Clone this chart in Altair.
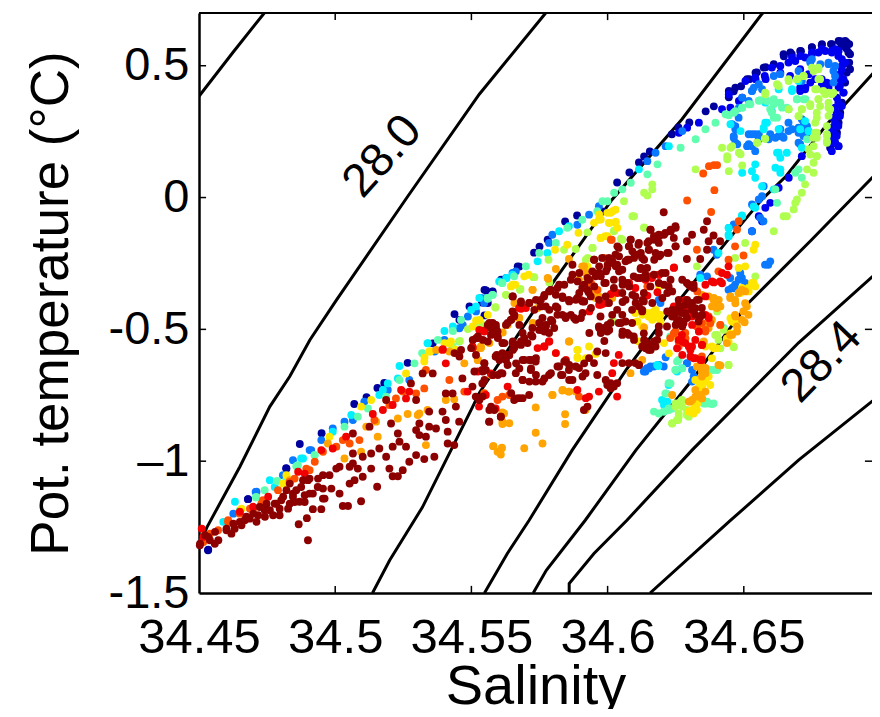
import altair as alt
import pandas as pd

x_ticks = [34.45, 34.5, 34.55, 34.6, 34.65]
y_ticks = [0.5, 0, -0.5, -1, -1.5]

line_a = [(34.45,0.384),(34.4625,0.551),(34.4742,0.703)]
line_b = [(34.45,-1.319),(34.4529,-1.251),(34.465,-1.021),(34.476,-0.793),(34.4833,-0.679),(34.4907,-0.54),(34.5005,-0.388),(34.5266,0.004),(34.5529,0.392),(34.5775,0.703)]
line_c = [(34.5137,-1.5),(34.52,-1.376),(34.532,-1.175),(34.5504,-0.795),(34.5529,-0.741),(34.5786,-0.342),(34.6016,-0.008),(34.6273,0.297),(34.6566,0.696),(34.6573,0.703)]
line_d = [(34.5548,-1.5),(34.5632,-1.35),(34.5712,-1.224),(34.587,-0.958),(34.6068,-0.654),(34.6214,-0.452),(34.6434,-0.171),(34.6566,-0.008),(34.6654,0.08),(34.6811,0.285),(34.7,0.5)]
line_e = [(34.5727,-1.5),(34.5775,-1.414),(34.5918,-1.224),(34.6104,-0.958),(34.631,-0.692),(34.6518,-0.399),(34.6749,-0.16),(34.7,0.106)]
line_f = [(34.5859,-1.5),(34.5859,-1.464),(34.595,-1.35),(34.6071,-1.224),(34.631,-0.958),(34.6701,-0.551),(34.7,-0.274)]
line_g = [(34.6156,-1.5),(34.6452,-1.224),(34.6701,-0.996),(34.7,-0.749)]

dark_blue = [(34.4533,-1.338),(34.468,-1.144),(34.482,-1.027),(34.487,-0.935),(34.495,-0.894),(34.507,-0.783),(34.5115,-0.757),(34.5155,-0.722),(34.518,-0.703),(34.5266,-0.627),(34.5358,-0.553),
(34.5548,-0.35),(34.5577,-0.357),(34.5658,-0.285),(34.5676,-0.262),(34.573,-0.209),(34.575,-0.186),(34.578,-0.16),(34.5844,-0.091),(34.5888,-0.068),(34.598,-0.053),
(34.6035,0.057),(34.608,0.095),(34.6115,0.133),(34.6134,0.156),(34.6155,0.175),(34.6236,0.24),(34.626,0.266),(34.63,0.285),(34.636,0.327),(34.639,0.346),(34.6445,0.38),(34.6463,0.403),(34.649,0.422),(34.652,0.449),(34.6548,0.475),(34.658,0.494),(34.6647,0.536),(34.6676,0.544),(34.671,0.555),(34.675,0.57),(34.6786,0.578),(34.682,0.582),(34.6855,0.593),(34.6877,0.589),(34.689,0.544),(34.689,0.487),(34.6877,0.565),(34.6858,0.575),(34.6875,0.51),
(34.567,-0.261),(34.5609,-0.312),(34.5554,-0.352),(34.5578,-0.356),(34.5539,-0.398),(34.556,-0.4),(34.5493,-0.413),(34.5438,-0.442),(34.5548,-0.447),(34.5456,-0.464),
(34.6445,0.404),(34.6469,0.417),(34.6512,0.449),(34.6543,0.474),(34.6573,0.493),(34.661,0.506),(34.6646,0.544),(34.6671,0.55),(34.6707,0.556),(34.675,0.569),(34.6787,0.582),(34.6823,0.582),(34.6848,0.594),(34.6872,0.594),(34.6887,0.582),(34.6884,0.55),(34.6887,0.512),(34.6878,0.474),(34.6872,0.436),(34.6866,0.398),(34.686,0.36),(34.6854,0.322),(34.6848,0.284),(34.6842,0.246),(34.6835,0.208),(34.6848,0.195),(34.6817,0.189),
(34.468,-1.144),(34.4821,-1.028),(34.4534,-1.336)]
blue = [(34.6847,0.537),(34.686,0.499),(34.6866,0.449),(34.6866,0.398),(34.686,0.347),(34.6853,0.309),(34.6847,0.271),(34.6841,0.233),(34.6847,0.195),(34.6823,0.176),(34.6823,0.208),(34.6829,0.246),(34.6835,0.284),(34.6841,0.322),(34.6847,0.36),(34.6853,0.424),(34.6872,0.512),(34.6835,0.563),(34.6853,0.468),(34.6835,0.208),(34.6823,0.252),
(34.6634,0.499),(34.6689,0.518),(34.675,0.544),(34.6799,0.556),(34.6725,0.531),(34.6774,0.55),(34.6664,0.512),(34.6603,0.493),(34.6542,0.455),(34.6506,0.442),(34.6823,0.55),(34.6335,0.284),(34.6292,0.265),(34.6262,0.246),(34.642,0.335),(34.6805,0.436),(34.6811,0.417),(34.6786,0.449),(34.6725,0.411),(34.6707,0.404),(34.6713,0.157),(34.6665,0.075),(34.6597,-0.02),(34.6579,-0.039),(34.653,-0.128),(34.6555,-0.071),(34.6567,-0.09),(34.6628,0.037),
(34.6677,0.531),(34.6707,0.537),(34.675,0.55),(34.6787,0.563),(34.6823,0.556),(34.6848,0.556),(34.686,0.525),(34.686,0.487),(34.6854,0.449),(34.6848,0.417),(34.6842,0.379),(34.6835,0.341),(34.6829,0.303),(34.6823,0.265),(34.6823,0.227),(34.6835,0.271),(34.6445,0.392),(34.6543,0.449),(34.658,0.449),(34.6577,0.461),(34.6634,0.474),(34.667,0.461),(34.6738,0.468),(34.6744,0.436),(34.6762,0.449),(34.6805,0.417),(34.6787,0.43),(34.6726,0.417),(34.6707,0.417),(34.6707,0.487),(34.6494,0.379),(34.6482,0.366),(34.6451,0.341)]
azure = [(34.6555,0.43),(34.653,0.404),(34.6494,0.379),(34.6567,0.411),(34.661,0.461),(34.6634,0.468),(34.6701,0.48),(34.675,0.525),(34.6744,0.512),(34.6811,0.506),(34.6829,0.48),(34.6713,0.442),(34.6457,0.278),(34.6469,0.271),(34.6463,0.233),(34.6469,0.208),(34.6481,0.303),(34.6518,0.24),(34.6542,0.24),(34.6555,0.221),(34.6597,0.24),(34.6616,0.227),(34.664,0.233),(34.6664,0.252),(34.6664,0.284),(34.6634,0.259),(34.6701,0.208),(34.6725,0.271),(34.6713,0.297),(34.6732,0.246),(34.6701,0.265),(34.6719,0.233),(34.6512,0.195),(34.6542,0.176),(34.6573,0.043),(34.6567,0.005),(34.6555,-0.007),(34.653,-0.026),(34.6445,-0.115),(34.6463,-0.102),(34.6274,0.252),(34.6213,0.195),(34.6176,0.17),(34.6146,0.138),
(34.5663,-0.28),(34.5627,-0.305),(34.5553,-0.381),(34.5535,-0.381),(34.5547,-0.4),(34.5797,-0.141),(34.5785,-0.172),(34.5889,-0.103),(34.5932,-0.065),(34.5968,-0.033),
(34.6145,-0.647),(34.6139,-0.66),(34.6157,-0.641),(34.6188,-0.635),(34.6206,-0.641),(34.6291,-0.628),(34.631,-0.654),(34.6389,-0.198),(34.6401,-0.217),(34.653,-0.128),(34.6572,-0.09),(34.656,-0.077),(34.659,-0.255),(34.6578,-0.255),(34.6597,-0.242),(34.6456,-0.343),(34.6468,-0.331),(34.6493,-0.305),(34.6481,-0.312),(34.645,-0.305),(34.634,-0.293),(34.6365,-0.299),(34.6505,-0.324),(34.6194,-0.4),(34.6188,-0.388),(34.6487,-0.286),
(34.4626,-1.199),(34.4711,-1.116),(34.4845,-0.996),(34.4912,-0.958),(34.4949,-0.92),(34.4991,-0.876),(34.5034,-0.85),(34.5065,-0.844),(34.5107,-0.774),(34.5193,-0.73),(34.5272,-0.692),
(34.5651,-0.286),(34.5487,-0.451),(34.5517,-0.432),(34.5468,-0.483),(34.5456,-0.496),(34.5401,-0.54),(34.5365,-0.584),
(34.6835,0.499),(34.6835,0.461),(34.6829,0.436),(34.6811,0.512),(34.6781,0.506),(34.6744,0.518),(34.653,0.404),(34.6518,0.366),(34.6482,0.341),(34.6537,0.417),(34.6469,0.259),(34.6463,0.227),(34.6476,0.202),(34.653,0.24),(34.6555,0.24),(34.6591,0.221),(34.6628,0.233),(34.6646,0.227),(34.6677,0.259),(34.6701,0.246),(34.6707,0.202),(34.6726,0.233),(34.6732,0.271),(34.672,0.284),(34.6518,0.202),(34.653,0.195),
(34.6139,-0.654),(34.6133,-0.66),(34.6152,-0.648),(34.617,-0.641),(34.6213,-0.606),(34.6316,-0.679),(34.631,-0.698),(34.6463,-0.344),(34.6444,-0.35),(34.6292,-0.629),
(34.4708,-1.117),(34.4808,-1.053),(34.4906,-0.958)]
cyan = [(34.6628,0.17),(34.6658,0.17),(34.6634,0.107),(34.6616,0.113),(34.6634,0.094),(34.6579,0.284),(34.6573,0.265),(34.6542,0.126),(34.653,0.1),(34.6494,0.094),(34.6542,0.075),(34.6603,0.328),(34.6677,0.404),(34.6701,0.442),(34.6225,0.195),(34.6115,0.107),(34.6494,-0.071),(34.6445,-0.147),(34.6542,-0.039),(34.6567,0.043),(34.661,0.031),(34.6725,0.29),(34.6707,0.259),(34.6738,0.252),(34.6579,0.36),
(34.6493,-0.068),(34.6536,-0.035),(34.6444,-0.141),(34.6444,-0.115),(34.6182,-0.635),(34.6255,-0.66),(34.6273,-0.647),(34.6224,-0.711),(34.62,-0.768),(34.6407,-0.21),(34.634,-0.305),(34.5602,-0.318),(34.5651,-0.293),(34.5822,-0.128),(34.5858,-0.109),(34.5779,-0.21),(34.5743,-0.242),
(34.4632,-1.154),(34.4589,-1.23),(34.476,-1.072),(34.4882,-0.99),(34.4991,-0.888),(34.5059,-0.825),(34.5162,-0.749),(34.5236,-0.639),(34.5193,-0.705),(34.5175,-0.73),(34.5339,-0.553),(34.523,-0.686),
(34.5629,-0.305),(34.5529,-0.381),(34.5517,-0.413),(34.5499,-0.426),(34.5432,-0.489),(34.5401,-0.506),(34.534,-0.552),
(34.6451,0.278),(34.6488,0.252),(34.6585,0.284),(34.6573,0.259),(34.6628,0.259),(34.6622,0.17),(34.6634,0.151),(34.6713,0.189),(34.6738,0.252),(34.6677,0.411),(34.6628,0.411),(34.6219,-0.774),(34.6207,-0.787),(34.6186,-0.639),
(34.4875,-0.99),(34.4778,-1.098)]
aqua = [(34.6323,0.221),(34.6268,0.189),(34.6183,0.126),(34.6146,0.088),(34.6085,0.056),(34.6054,0.031),(34.6024,0.018),(34.5981,-0.014),(34.6359,0.259),(34.6396,0.284),(34.6433,0.316),(34.6469,0.328),(34.6494,0.341),(34.6524,0.354),(34.6555,0.367),(34.6579,0.373),(34.661,0.354),(34.664,0.341),(34.6664,0.335),(34.6603,0.322),(34.6622,0.303),(34.6695,0.373),(34.6719,0.373),(34.6616,0.031),(34.6622,-0.02),(34.6701,0.107),(34.6713,0.075),(34.6689,0.094),(34.6732,0.221),
(34.5559,-0.381),(34.5578,-0.369),(34.5614,-0.324),(34.5657,-0.299),(34.57,-0.261),(34.5749,-0.21),(34.581,-0.172),(34.5852,-0.115),(34.5907,-0.084),(34.5962,-0.052),(34.5999,-0.014),
(34.617,-0.812),(34.6188,-0.819),(34.6206,-0.812),(34.6224,-0.8),(34.6212,-0.743),(34.6224,-0.704),(34.6249,-0.654),(34.6255,-0.622),(34.623,-0.527),(34.6389,-0.654),(34.6377,-0.654),(34.6371,-0.781),(34.6383,-0.783),(34.6359,-0.781),(34.6346,-0.768),(34.6426,-0.495),
(34.465,-1.186),(34.4709,-1.138),(34.4787,-1.075),(34.4857,-1.019),(34.4925,-0.977),(34.5034,-0.869),(34.5083,-0.831),(34.512,-0.8),(34.5187,-0.755),(34.5236,-0.692),(34.5291,-0.629),(34.5321,-0.591),(34.5455,-0.546),(34.543,-0.565),
(34.5612,-0.324),(34.556,-0.384),(34.5578,-0.369),(34.5462,-0.464),(34.5432,-0.506),(34.5377,-0.54),(34.5319,-0.59),
(34.6561,0.369),(34.6585,0.366),(34.661,0.373),(34.6634,0.36),(34.6658,0.341),(34.6597,0.335),(34.661,0.303),(34.6695,0.373),(34.6726,0.373),(34.6518,0.354),(34.6494,0.341),(34.6463,0.322),(34.6445,0.312),
(34.6207,-0.812),(34.6225,-0.806),(34.6237,-0.8),(34.6216,-0.743),(34.6231,-0.705),(34.6261,-0.616),(34.6249,-0.654),(34.6274,-0.648),(34.6402,-0.654),(34.6389,-0.781),(34.6365,-0.774),(34.6353,-0.781),
(34.4741,-1.11),(34.471,-1.136),(34.482,-1.072),(34.4863,-1.015),(34.4924,-0.977)]
lime = [(34.6774,0.493),(34.6756,0.48),(34.678,0.449),(34.6768,0.411),(34.6792,0.404),(34.6823,0.392),(34.6811,0.398),(34.6774,0.373),(34.6811,0.36),(34.6817,0.335),(34.6811,0.31),(34.678,0.347),(34.6768,0.322),(34.6762,0.284),(34.6768,0.246),(34.6756,0.227),(34.6805,0.24),(34.6805,0.214),(34.6701,0.309),(34.6713,0.335),(34.6744,0.347),(34.6738,0.183),(34.6768,0.157),(34.6756,0.132),(34.6732,0.107),(34.6756,0.094),(34.6725,0.05),(34.6713,0.018),(34.6695,-0.007),(34.6689,-0.02),(34.6683,-0.045),(34.6646,-0.071),(34.6658,-0.071),(34.6323,0.107),(34.6445,0.1),(34.6494,0.122),(34.6488,0.164),(34.6457,0.195),(34.642,0.189),(34.6439,0.157),(34.6439,0.145),(34.6549,0.208),(34.6579,0.223),(34.6628,0.423),(34.6664,0.449),(34.6695,0.449),(34.6719,0.461),(34.6579,0.392),(34.6164,0.05),(34.6134,0.018),(34.6146,0.008),(34.6164,0.031),(34.606,-0.014),(34.6091,-0.071),(34.6134,-0.115),(34.661,-0.128),
(34.6054,-0.16),(34.6023,-0.128),(34.5944,-0.191),(34.592,-0.236),(34.5889,-0.578),(34.584,-0.198),(34.5883,-0.195),(34.5926,-0.132),(34.5678,-0.35),(34.5627,-0.369),(34.5588,-0.416),(34.5727,-0.302),(34.5783,-0.236),(34.6505,-0.172),(34.6468,-0.229),(34.6328,-0.261),(34.6462,-0.565),(34.6444,-0.635),(34.6426,-0.502),(34.6395,-0.521),(34.6407,-0.54),(34.6017,-0.47),(34.6261,-0.781),(34.6273,-0.768),(34.6291,-0.806),(34.6261,-0.819),(34.6237,-0.856),(34.6259,-0.844),(34.6291,-0.825),(34.6249,-0.793),
(34.5541,-0.483),(34.5523,-0.489),(34.5487,-0.499),(34.5458,-0.544),(34.5434,-0.571),
(34.6579,0.398),(34.6622,0.43),(34.6665,0.442),(34.6695,0.449),(34.672,0.461),(34.675,0.493),(34.6774,0.487),(34.6774,0.449),(34.6762,0.411),(34.6799,0.392),(34.6829,0.398),(34.6774,0.373),(34.6811,0.341),(34.6744,0.354),(34.6713,0.335),(34.6701,0.309),(34.6768,0.303),(34.6805,0.271),(34.6762,0.246),(34.6768,0.227),(34.6805,0.233),(34.6805,0.208),(34.6756,0.195),(34.6665,0.335),(34.6549,0.208),(34.6577,0.223),(34.6451,0.189),(34.6482,0.17),(34.6768,0.157),(34.6744,0.163),
(34.6402,-0.521),(34.6414,-0.572),(34.6463,-0.568),(34.6444,-0.635),(34.6402,-0.432),(34.6249,-0.781),(34.6268,-0.774),(34.6274,-0.793),(34.6261,-0.831),(34.6237,-0.857),(34.6255,-0.844),(34.6298,-0.831),(34.6542,-0.299),
(34.5588,-0.417),(34.5627,-0.369),(34.568,-0.347),(34.5731,-0.302),(34.5786,-0.322),(34.6134,-0.113),(34.6024,-0.125),(34.6049,-0.156),(34.5945,-0.191),(34.5927,-0.229),(34.6097,-0.071),(34.6018,-0.464)]
yellow = [(34.6011,-0.058),(34.6029,-0.046),(34.5968,-0.084),(34.595,-0.096),(34.5893,-0.134),(34.5852,-0.179),(34.5807,-0.198),(34.571,-0.293),(34.5694,-0.299),(34.5661,-0.331),(34.5645,-0.337),(34.6005,-0.096),(34.6029,-0.096),(34.5974,-0.153),(34.5999,-0.147),(34.5926,-0.261),(34.5932,-0.312),(34.6151,-0.451),(34.617,-0.457),(34.6127,-0.489),(34.6102,-0.438),(34.6139,-0.438),(34.6194,-0.445),(34.6176,-0.426),(34.5932,-0.565),(34.5889,-0.606),(34.5956,-0.593),(34.6115,-0.546),(34.6542,-0.179),(34.6536,-0.198),(34.6481,-0.267),(34.6505,-0.261),(34.6536,-0.324),(34.6542,-0.337),(34.6517,-0.343),(34.6493,-0.343),(34.6487,-0.362),(34.6383,-0.565),(34.6401,-0.571),(34.6468,-0.476),(34.6456,-0.47),(34.6438,-0.54),(34.6359,-0.692),(34.6346,-0.704),(34.6322,-0.692),(34.6334,-0.717),(34.6322,-0.793),(34.631,-0.806),(34.6328,-0.806),(34.6322,-0.768),
(34.5969,-0.064),(34.6018,-0.052),(34.5999,-0.058),(34.6006,-0.096),(34.603,-0.092),(34.5975,-0.083),
(34.4821,-1.053),(34.4979,-0.907),(34.5095,-0.793),(34.5132,-0.768),(34.526,-0.667),(34.5327,-0.622),(34.5345,-0.584),(34.5419,-0.553),(34.5443,-0.578),
(34.5651,-0.331),(34.556,-0.445),(34.5517,-0.466),(34.5425,-0.546),(34.5401,-0.552),(34.5349,-0.584),(34.5328,-0.607),
(34.6152,-0.439),(34.617,-0.432),(34.6164,-0.464),(34.6194,-0.47),(34.6207,-0.552),(34.6225,-0.591),(34.6359,-0.565),(34.639,-0.572),(34.6383,-0.61),(34.6371,-0.679),(34.6359,-0.698),(34.6347,-0.717),(34.6377,-0.711),(34.6335,-0.73),(34.6329,-0.781),(34.6298,-0.812),(34.6316,-0.819),(34.653,-0.324),(34.6505,-0.35),(34.6481,-0.363),(34.6518,-0.356),(34.6451,-0.458),(34.6438,-0.534),(34.6451,-0.515),(34.6444,-0.546),
(34.589,-0.578),(34.589,-0.609),(34.592,-0.609),(34.553,-0.464),(34.5505,-0.489),(34.5975,-0.153),(34.5991,-0.147),(34.6152,-0.451),(34.6128,-0.445),(34.6109,-0.47),(34.6177,-0.432),(34.6006,-0.096),(34.6036,-0.115),(34.6189,-0.337),(34.4808,-1.085),(34.4656,-1.18)]
orange = [(34.5858,-0.233),(34.5907,-0.261),(34.581,-0.271),(34.5782,-0.308),(34.5724,-0.35),(34.5675,-0.457),(34.5627,-0.483),(34.5858,-0.546),(34.5834,-0.732),(34.5856,-0.736),(34.5797,-0.749),(34.5736,-0.796),(34.5844,-0.822),(34.5844,-0.859),(34.5736,-0.892),(34.5761,-0.933),(34.5581,-0.943),(34.5612,-0.949),(34.5694,-0.951),(34.5639,-0.856),(34.5614,-0.859),(34.5614,-0.815),(34.5919,-0.806),(34.6389,-0.388),(34.6371,-0.375),(34.6346,-0.369),(34.6401,-0.419),(34.6383,-0.413),(34.6413,-0.483),(34.6383,-0.464),(34.6359,-0.483),(34.6346,-0.495),(34.6505,-0.356),(34.6493,-0.35),(34.6481,-0.362),(34.645,-0.381),(34.6468,-0.388),(34.6511,-0.413),(34.6499,-0.432),(34.6517,-0.445),(34.6468,-0.445),(34.6493,-0.464),(34.6475,-0.508),(34.645,-0.521),(34.6438,-0.552),(34.6407,-0.635),(34.6359,-0.647),(34.6346,-0.66),(34.6328,-0.641),(34.6359,-0.666),(34.6346,-0.679),(34.6322,-0.73),(34.631,-0.768),(34.6334,-0.755),(34.6359,-0.736),(34.6298,-0.774),(34.6084,-0.666),(34.6127,-0.616),(34.5956,-0.381),(34.5895,-0.312),(34.5919,-0.286),(34.595,-0.356),(34.5968,-0.375),(34.6017,-0.381),
(34.4833,-1.072),(34.4973,-0.933),(34.5034,-0.99),(34.5095,-0.964),(34.523,-0.838),(34.5266,-0.821),(34.5309,-0.819),(34.5339,-0.806),(34.5406,-0.768),(34.5437,-0.765),(34.5474,-0.629),(34.5523,-0.616),(34.5535,-0.565),(34.5614,-0.85),(34.562,-0.819),(34.515,-0.85),(34.5114,-0.869),(34.5333,-0.939),(34.5303,-0.825),(34.5156,-0.907),(34.558,-0.943),(34.5611,-0.952),(34.5608,-0.975),(34.5596,-0.964),
(34.5633,-0.483),(34.5649,-0.461),(34.5535,-0.571),(34.5419,-0.584),(34.5371,-0.578),
(34.6396,-0.401),(34.6408,-0.388),(34.639,-0.381),(34.6414,-0.413),(34.6451,-0.375),(34.6469,-0.401),(34.6505,-0.401),(34.6499,-0.432),(34.6469,-0.451),(34.6503,-0.473),(34.6475,-0.489),(34.6457,-0.521),(34.6353,-0.546),(34.6347,-0.641),(34.6359,-0.647),(34.6335,-0.641),(34.6414,-0.637),(34.6237,-0.749),(34.6341,-0.749),(34.6322,-0.755),(34.6304,-0.774),(34.6347,-0.762),(34.6371,-0.495),
(34.5725,-0.35),(34.578,-0.305),(34.5615,-0.512),(34.5859,-0.546),(34.581,-0.59),(34.5566,-0.552),(34.553,-0.571),(34.5524,-0.616),(34.5725,-0.476),(34.5676,-0.457),(34.5835,-0.73),(34.5859,-0.736),(34.5798,-0.749),(34.5883,-0.736),(34.5572,-0.673),(34.5658,-0.4),(34.5743,-0.419),(34.5914,-0.261),(34.6134,-0.493),(34.6256,-0.527)]
orange_red = [(34.6372,0.119),(34.639,0.123),(34.6402,0.123),(34.6351,0.091),(34.6392,0.028),(34.6292,-0.011),(34.638,-0.055),(34.6481,-0.09),(34.6475,-0.121),(34.6015,-0.16),(34.6468,-0.185),(34.6499,-0.22),(34.6328,-0.198),(34.6407,-0.28),(34.6444,-0.236),(34.6249,-0.508),(34.6273,-0.527),(34.623,-0.533),(34.6285,-0.514),(34.6328,-0.489),(34.6346,-0.476),(34.6371,-0.451),(34.6359,-0.502),(34.6261,-0.565),(34.6346,-0.603),(34.5895,-0.755),(34.5639,-0.749),(34.5596,-0.768),(34.5614,-0.755),(34.5547,-0.742),
(34.4516,-1.3),(34.457,-1.262),(34.4607,-1.224),(34.4687,-1.18),(34.4729,-1.161),(34.479,-1.11),(34.4894,-1.028),(34.4925,-1.002),(34.4955,-0.964),(34.5004,-0.945),(34.5028,-0.92),(34.5053,-0.933),(34.5089,-0.92),(34.5144,-0.844),(34.5199,-0.787),(34.5223,-0.762),(34.5248,-0.736),(34.5297,-0.743),(34.5327,-0.724),(34.5419,-0.692),(34.5474,-0.736),(34.5333,-0.654),
(34.6261,-0.546),(34.6286,-0.534),(34.6243,-0.515),(34.6377,-0.477),(34.6359,-0.508),(34.6329,-0.356),(34.6414,-0.483),
(34.4516,-1.307),(34.454,-1.275),(34.4607,-1.231),(34.465,-1.199),(34.4699,-1.18),(34.4735,-1.148),(34.4833,-1.079),(34.4851,-1.066),(34.4906,-1.034),
(34.5939,-0.324),(34.5988,-0.229),(34.6146,-0.337),(34.6012,-0.16),(34.5963,-0.35)]
red = [(34.6188,-0.293),(34.6163,-0.305),(34.6243,-0.267),(34.6139,-0.312),(34.6102,-0.343),(34.5974,-0.407),(34.5993,-0.4),(34.5785,-0.546),(34.5767,-0.565),(34.5743,-0.571),(34.581,-0.59),(34.5675,-0.419),(34.57,-0.419),(34.6041,-0.597),(34.6023,-0.628),(34.6017,-0.666),(34.6035,-0.755),(34.5968,-0.736),(34.5932,-0.755),(34.592,-0.761),(34.5889,-0.73),(34.6322,-0.54),(34.631,-0.565),(34.6304,-0.603),(34.6322,-0.609),(34.6346,-0.616),(34.6273,-0.521),(34.6285,-0.552),(34.6261,-0.54),(34.6346,-0.559),(34.6383,-0.318),(34.6413,-0.318),(34.642,-0.286),(34.6444,-0.261),(34.631,-0.483),(34.6285,-0.388),(34.6359,-0.445),(34.6371,-0.457),(34.6359,-0.375),(34.6243,-0.413),(34.5901,-0.388),(34.5529,-0.502),(34.5547,-0.508),
(34.451,-1.256),(34.4516,-1.287),(34.465,-1.192),(34.4699,-1.173),(34.4754,-1.135),(34.4864,-1.04),(34.4888,-1.047),(34.4949,-0.958),(34.4991,-0.952),(34.504,-0.907),(34.5138,-0.821),(34.5175,-0.806),(34.5211,-0.787),(34.526,-0.762),(34.5242,-0.73),(34.5272,-0.736),(34.5394,-0.578),(34.5406,-0.629),(34.5504,-0.565),(34.5528,-0.793),(34.5589,-0.8),(34.5571,-0.667),(34.5553,-0.749),(34.5486,-0.736),
(34.5517,-0.533),(34.5395,-0.575),(34.5505,-0.571),
(34.6316,-0.61),(34.6341,-0.616),(34.6347,-0.559),(34.6298,-0.565),(34.6255,-0.572),(34.6274,-0.597),(34.6274,-0.546),(34.631,-0.451),(34.6304,-0.578),(34.6292,-0.42),(34.6359,-0.331),(34.639,-0.322),(34.642,-0.325),(34.6438,-0.293),(34.6335,-0.508),
(34.5548,-0.504),(34.5682,-0.422),(34.5786,-0.546),(34.5768,-0.565),(34.5524,-0.66),(34.5578,-0.673),(34.5633,-0.717),(34.5847,-0.616),
(34.6244,-0.265),(34.6189,-0.293),(34.6158,-0.299),(34.6079,-0.324),(34.6036,-0.362),(34.6012,-0.366),(34.5981,-0.404),(34.5933,-0.432),(34.6183,-0.359),(34.6146,-0.372),(34.5969,-0.407)]
dark_red = [(34.6206,-0.056),(34.6157,-0.122),(34.6249,-0.109),(34.6231,-0.122),(34.6212,-0.134),(34.6188,-0.141),(34.617,-0.147),(34.6151,-0.166),(34.631,-0.141),(34.6353,-0.122),(34.6365,-0.09),(34.6389,-0.144),(34.6413,-0.166),(34.6371,-0.166),(34.6291,-0.166),(34.6243,-0.153),(34.6188,-0.172),(34.6115,-0.172),(34.6084,-0.16),(34.6078,-0.185),(34.6041,-0.191),(34.6029,-0.217),(34.6005,-0.229),(34.595,-0.236),(34.598,-0.229),(34.6017,-0.248),(34.5999,-0.267),(34.5968,-0.286),(34.5944,-0.28),(34.6078,-0.236),(34.6109,-0.217),(34.6127,-0.229),(34.6151,-0.198),(34.6176,-0.21),(34.6194,-0.217),(34.6224,-0.21),(34.6249,-0.185),(34.6291,-0.233),(34.634,-0.233),(34.6365,-0.198),(34.6145,-0.267),(34.6121,-0.271),(34.6054,-0.274),(34.6066,-0.242),(34.6035,-0.255),
(34.5871,-0.255),(34.5871,-0.293),(34.5822,-0.331),(34.5785,-0.356),(34.5767,-0.375),(34.581,-0.369),(34.5834,-0.375),(34.5858,-0.388),(34.5889,-0.381),(34.5913,-0.394),(34.5938,-0.375),(34.5907,-0.343),(34.5932,-0.312),(34.5956,-0.299),(34.5993,-0.324),(34.6023,-0.312),(34.6054,-0.312),(34.6096,-0.299),(34.6072,-0.324),(34.6121,-0.305),(34.6139,-0.293),(34.617,-0.293),(34.62,-0.286),(34.6231,-0.312),(34.6224,-0.337),(34.6237,-0.356),(34.6188,-0.324),(34.6157,-0.337),(34.6133,-0.362),(34.6102,-0.375),(34.6115,-0.413),(34.6127,-0.426),(34.609,-0.426),(34.6066,-0.388),(34.6054,-0.362),(34.6023,-0.343),(34.5993,-0.375),(34.5968,-0.388),(34.6005,-0.4),(34.6035,-0.426),(34.6054,-0.445),(34.6066,-0.47),(34.609,-0.476),(34.6072,-0.514),(34.6054,-0.521),(34.6096,-0.527),(34.6041,-0.476),(34.6011,-0.476),(34.5987,-0.495),(34.5968,-0.489),(34.5999,-0.508),(34.6017,-0.445),(34.5974,-0.451),
(34.5651,-0.375),(34.5682,-0.394),(34.5712,-0.4),(34.5755,-0.388),(34.5773,-0.413),(34.581,-0.413),(34.5834,-0.445),(34.5865,-0.445),(34.5883,-0.464),(34.5846,-0.457),(34.5797,-0.47),(34.5773,-0.489),(34.5755,-0.502),(34.5785,-0.514),(34.5749,-0.476),(34.5724,-0.495),(34.5688,-0.514),(34.5657,-0.451),(34.5645,-0.464),(34.5633,-0.476),(34.5761,-0.457),
(34.5566,-0.476),(34.559,-0.495),(34.5596,-0.527),(34.5614,-0.552),(34.5651,-0.552),(34.5657,-0.571),(34.5682,-0.546),(34.5706,-0.552),(34.5724,-0.527),(34.5639,-0.597),(34.559,-0.603),(34.5614,-0.59),(34.5627,-0.616),(34.5547,-0.628),(34.5553,-0.654),(34.5578,-0.673),(34.5608,-0.666),(34.5663,-0.666),(34.5688,-0.692),(34.5718,-0.654),(34.5736,-0.622),(34.5712,-0.616),(34.5688,-0.616),(34.5736,-0.698),(34.5761,-0.698),(34.5785,-0.673),
(34.5846,-0.622),(34.5822,-0.641),(34.5834,-0.673),(34.5871,-0.692),(34.5858,-0.654),(34.5895,-0.647),(34.5919,-0.666),(34.595,-0.628),(34.5962,-0.584),(34.5993,-0.59),(34.5932,-0.609),(34.5962,-0.673),(34.5993,-0.692),(34.6011,-0.704),(34.6035,-0.704),(34.6023,-0.717),(34.5999,-0.711),(34.6011,-0.723),(34.6054,-0.628),(34.6078,-0.628),(34.6102,-0.628),(34.6115,-0.635),(34.6127,-0.565),(34.6151,-0.559),(34.617,-0.546),(34.6188,-0.514),(34.6218,-0.489),(34.6151,-0.578),(34.6176,-0.565),(34.6139,-0.546),
(34.6261,-0.413),(34.6285,-0.407),(34.631,-0.4),(34.6328,-0.388),(34.6346,-0.419),(34.631,-0.426),(34.6273,-0.438),(34.6243,-0.445),(34.6255,-0.47),(34.6291,-0.457),(34.6322,-0.445),(34.634,-0.451),(34.6237,-0.426),(34.6304,-0.337),(34.6291,-0.324),(34.6316,-0.343),(34.6279,-0.476),(34.6334,-0.47),(34.6261,-0.388),
(34.5566,-0.806),(34.5572,-0.793),(34.5584,-0.806),(34.5608,-0.831),(34.5566,-0.85),(34.5675,-0.761),(34.5688,-0.761),(34.5712,-0.749),(34.5529,-0.768),(34.5541,-0.755),(34.5926,-0.793),(34.5913,-0.806),(34.5657,-0.768),
(34.4504,-1.313),(34.4534,-1.287),(34.4571,-1.3),(34.4559,-1.268),(34.4601,-1.256),(34.465,-1.23),(34.4711,-1.23),(34.4742,-1.211),(34.4772,-1.205),(34.4796,-1.18),(34.4833,-1.161),(34.4869,-1.154),(34.4888,-1.129),(34.4918,-1.123),(34.4821,-1.11),(34.4857,-1.11),(34.4809,-1.135),(34.4748,-1.161),(34.4918,-1.182),(34.4949,-1.182),(34.4866,-1.239),(34.4896,-1.216),(34.49,-1.3),(34.4961,-1.142),(34.5028,-1.17),(34.5047,-1.17),(34.5095,-1.152),(34.5154,-1.097),(34.5016,-1.123),(34.4986,-1.104),(34.4955,-1.104),(34.4937,-1.066),(34.4979,-1.053),(34.5016,-1.021),(34.5053,-1.021),(34.5065,-0.971),(34.5101,-0.983),(34.5132,-0.971),(34.5162,-0.952),(34.5211,-0.945),(34.5236,-0.926),(34.526,-0.945),(34.5205,-0.857),(34.5065,-0.895),(34.5126,-0.869),(34.5065,-1.009),(34.5083,-1.028),(34.5101,-1.059),(34.5132,-1.028),(34.5053,-1.085),(34.5071,-1.072),(34.5199,-1.028),(34.5211,-1.057),(34.523,-1.057),(34.5248,-1.034),(34.5272,-1.002),(34.5297,-0.977),(34.5327,-0.992),(34.5364,-0.983),(34.5187,-0.983),(34.523,-0.895),(34.5187,-0.768),(34.5297,-0.768),(34.5297,-0.882),(34.5309,-0.857),(34.5333,-0.907),(34.537,-0.876),(34.5406,-0.844),(34.5443,-0.793),(34.5455,-0.85),(34.5413,-0.888),(34.5437,-0.939),(34.5413,-0.933),(34.5565,-0.85),(34.5516,-0.755),(34.554,-0.705),(34.5467,-0.686),(34.554,-0.654),(34.5589,-0.603),(34.5614,-0.667),(34.5358,-0.667),(34.5321,-0.667),(34.5406,-0.743),(34.5431,-0.743),(34.5278,-0.705),(34.5608,-0.831),(34.5394,-0.812),(34.5345,-0.812),(34.5504,-0.717),(34.5309,-0.901),(34.5345,-0.869),
(34.4674,-1.211),(34.4699,-1.199),(34.476,-1.186),(34.4784,-1.161),(34.4626,-1.237),(34.454,-1.3),(34.4522,-1.281),(34.4845,-1.135),(34.4833,-1.085),(34.4882,-1.072),(34.4906,-1.066),(34.4955,-1.053),(34.5004,-1.028),
(34.559,-0.483),(34.5572,-0.496),(34.5596,-0.508),(34.556,-0.546),(34.5627,-0.483),(34.5615,-0.552),(34.5593,-0.597),(34.5651,-0.432),(34.5663,-0.559),(34.5462,-0.578),(34.5438,-0.59),(34.5517,-0.597),(34.5639,-0.597),(34.5456,-0.603),(34.5523,-0.533),
(34.6152,-0.559),(34.614,-0.572),(34.6158,-0.578),(34.6182,-0.54),(34.6249,-0.439),(34.6268,-0.413),(34.6286,-0.439),(34.6304,-0.407),(34.6322,-0.42),(34.6347,-0.445),(34.6261,-0.464),(34.6237,-0.451),(34.6274,-0.489),(34.6298,-0.331),(34.6316,-0.331),(34.6274,-0.312),(34.6292,-0.388),(34.6335,-0.388),(34.6133,-0.394),(34.6127,-0.432),(34.6219,-0.432),(34.6188,-0.489),(34.6133,-0.515),(34.6115,-0.635),
(34.4601,-1.262),(34.4631,-1.256),(34.4656,-1.243),(34.4686,-1.218),(34.4717,-1.205),(34.4741,-1.186),(34.4796,-1.205),(34.4827,-1.18),(34.4778,-1.161),(34.4802,-1.148),(34.4851,-1.155),(34.4888,-1.155),(34.4845,-1.123),(34.4875,-1.098),(34.4906,-1.123),(34.4936,-1.098),(34.4955,-1.142),(34.49,-1.072),(34.4723,-1.174),(34.4503,-1.319),(34.4558,-1.313),(34.4619,-1.275),(34.4668,-1.224),
(34.5652,-0.375),(34.5682,-0.4),(34.5713,-0.4),(34.5737,-0.388),(34.5768,-0.369),(34.5792,-0.35),(34.5816,-0.343),(34.5841,-0.331),(34.5865,-0.312),(34.589,-0.318),(34.5896,-0.286),(34.5926,-0.305),(34.5835,-0.381),(34.5859,-0.394),(34.5883,-0.388),(34.5914,-0.394),(34.5926,-0.35),(34.5896,-0.362),(34.5658,-0.445),(34.5646,-0.464),(34.5676,-0.483),(34.5694,-0.533),(34.5719,-0.521),(34.5749,-0.502),(34.5774,-0.483),(34.5792,-0.464),(34.5816,-0.445),(34.5847,-0.451),(34.5877,-0.457),(34.5908,-0.438),(34.5768,-0.508),(34.5804,-0.495),(34.5731,-0.426),(34.5755,-0.413),(34.5786,-0.426),(34.5816,-0.419),(34.5578,-0.476),(34.556,-0.483),(34.559,-0.502),(34.5572,-0.521),(34.5597,-0.533),(34.5524,-0.527),(34.5505,-0.54),(34.5542,-0.54),(34.5499,-0.571),(34.5652,-0.546),(34.5621,-0.552),(34.5682,-0.559),(34.5652,-0.578),(34.5627,-0.597),(34.5603,-0.616),(34.5633,-0.635),(34.5664,-0.629),(34.5694,-0.616),(34.5719,-0.616),(34.5737,-0.609),(34.5676,-0.648),(34.5719,-0.648),(34.5737,-0.673),(34.5768,-0.686),(34.5792,-0.666),(34.5816,-0.641),(34.5841,-0.622),(34.5859,-0.635),(34.5883,-0.641),(34.5914,-0.629),(34.5829,-0.673),(34.5859,-0.692),(34.5908,-0.679),(34.5548,-0.629),(34.5542,-0.66),(34.5511,-0.66),(34.5548,-0.692),(34.5597,-0.673),(34.5688,-0.692),(34.5713,-0.698),(34.5646,-0.742),(34.5664,-0.762),
(34.6158,-0.122),(34.625,-0.115),(34.6232,-0.128),(34.6207,-0.141),(34.6189,-0.147),(34.6171,-0.16),(34.6146,-0.172),(34.6085,-0.16),(34.6079,-0.185),(34.6113,-0.179),(34.6036,-0.185),(34.6091,-0.204),(34.6122,-0.21),(34.6152,-0.198),(34.6219,-0.21),(34.625,-0.185),(34.6189,-0.223),(34.6171,-0.236),(34.6134,-0.236),(34.6097,-0.229),(34.6073,-0.236),(34.6122,-0.267),(34.6042,-0.223),(34.6018,-0.242),(34.6,-0.255),(34.603,-0.261),(34.5994,-0.28),(34.5969,-0.261),(34.5951,-0.236),(34.5975,-0.299),(34.6042,-0.28),(34.5914,-0.331),(34.5951,-0.337),(34.593,-0.359),(34.5988,-0.324),(34.6055,-0.331),(34.6079,-0.337),(34.611,-0.305),(34.614,-0.305),(34.6213,-0.286),(34.6207,-0.331),(34.6219,-0.362),(34.6201,-0.381),(34.6091,-0.369),(34.6128,-0.388),(34.6103,-0.4),(34.6055,-0.396),(34.6164,-0.4),(34.5939,-0.419),(34.5908,-0.394),(34.5902,-0.457),(34.5933,-0.514),(34.5969,-0.495),(34.6,-0.483),(34.6049,-0.476),(34.6006,-0.502),(34.5975,-0.514),(34.6055,-0.508),(34.6079,-0.521),(34.6097,-0.54),(34.6134,-0.54),(34.5988,-0.544),(34.6238,-0.445),(34.6262,-0.426),(34.625,-0.483),(34.6274,-0.47)]

groups = [("dark_blue", dark_blue, "#00009c"), ("blue", blue, "#0000f0"), ("azure", azure, "#0a78ff"),
          ("cyan", cyan, "#00f0ff"), ("aqua", aqua, "#60ffb0"), ("lime", lime, "#b0ff50"),
          ("yellow", yellow, "#ffe600"), ("orange", orange, "#ffa400"), ("orange_red", orange_red, "#ff5000"),
          ("red", red, "#f00000"), ("dark_red", dark_red, "#8c0000")]
lines = {"a": line_a, "b": line_b, "c": line_c, "d": line_d, "e": line_e, "f": line_f, "g": line_g}

pts = pd.DataFrame([{"s": s, "t": t, "g": g, "k": i} for i, (g, vals, _) in enumerate(groups) for s, t in vals])
ln = pd.DataFrame([{"s": s, "t": t, "n": n, "i": i} for n, vals in lines.items() for i, (s, t) in enumerate(vals)])

FONT = "Liberation Sans"
S_MAX = 34.69706
xs = alt.Scale(domain=[34.45, S_MAX], nice=False, zero=False)
ys = alt.Scale(domain=[-1.5, 0.7], nice=False, zero=False)
y_expr = "datum.value==-0.5?'-0.5':datum.value==-1.5?'-1.5':datum.value==-1?'–1':datum.value==0?'0':'0.5'"
x_axis = alt.Axis(values=x_ticks, format=".2~f", title="Salinity", titleFont=FONT, titleFontSize=56, titleFontWeight="normal",
                  labelFont=FONT, labelFontSize=49, labelColor="black", titleColor="black", tickSize=0, grid=False,
                  domainColor="black", domainWidth=2.5, labelPadding=20, titlePadding=-3, labelFlush=False, labelOverlap=False)
y_axis = alt.Axis(values=y_ticks, labelExpr=y_expr, title="Pot. temperature (°C)", titleFont=FONT, titleFontSize=53, titleFontWeight="normal",
                  labelFont=FONT, labelFontSize=47, labelColor="black", titleColor="black", tickSize=0, grid=False,
                  domainColor="black", domainWidth=2.5, labelPadding=10, titlePadding=30, labelFlush=False, labelOverlap=False)

iso = alt.Chart(ln).mark_line(color="black", strokeWidth=3, clip=True).encode(
    x=alt.X("s:Q", scale=xs, axis=x_axis), y=alt.Y("t:Q", scale=ys, axis=y_axis), detail="n:N", order="i:Q")
dots = alt.Chart(pts).mark_circle(size=62, opacity=1).encode(
    x=alt.X("s:Q", scale=xs), y=alt.Y("t:Q", scale=ys),
    color=alt.Color("g:N", scale=alt.Scale(domain=[g[0] for g in groups], range=[g[2] for g in groups]), legend=None),
    order="k:Q")

top = alt.Chart(pd.DataFrame({"a": [34.45], "b": [S_MAX], "t": [0.7]})).mark_rule(color="black", strokeWidth=2).encode(
    x=alt.X("a:Q", scale=xs), x2="b:Q", y=alt.Y("t:Q", scale=ys))
tick_rows = []
for v in x_ticks[1:]:
    tick_rows += [(v, v, -1.5, -1.473), (v, v, 0.7, 0.673)]
for v in y_ticks[:-1]:
    tick_rows += [(34.45, 34.4526, v, v), (S_MAX - 0.0026, S_MAX, v, v)]
ticks = pd.DataFrame(tick_rows, columns=["x1", "x2", "y1", "y2"])
tick_marks = alt.Chart(ticks).mark_rule(color="black", strokeWidth=1.5).encode(
    x=alt.X("x1:Q", scale=xs), x2="x2:Q", y=alt.Y("y1:Q", scale=ys), y2="y2:Q")

lab_df = pd.DataFrame({"s": [34.5174, 34.6786], "t": [0.156, -0.624], "txt": ["28.0", "28.4"]})
lab1 = alt.Chart(lab_df.iloc[[0]]).mark_text(font=FONT, fontSize=47, color="black", angle=312, align="center", baseline="middle").encode(
    x=alt.X("s:Q", scale=xs), y=alt.Y("t:Q", scale=ys), text="txt:N")
lab2 = alt.Chart(lab_df.iloc[[1]]).mark_text(font=FONT, fontSize=47, color="black", angle=314, align="center", baseline="middle").encode(
    x=alt.X("s:Q", scale=xs), y=alt.Y("t:Q", scale=ys), text="txt:N")

chart = alt.layer(iso, top, tick_marks, dots, lab1, lab2).properties(
    width=673, height=580, background="white",
    padding={"left": 191, "top": 5, "right": 0, "bottom": 116},
    autosize=alt.AutoSizeParams(type="none"),
).configure_view(stroke=None)

chart.save("out.html", embed_options={"renderer": "svg", "actions": False})
